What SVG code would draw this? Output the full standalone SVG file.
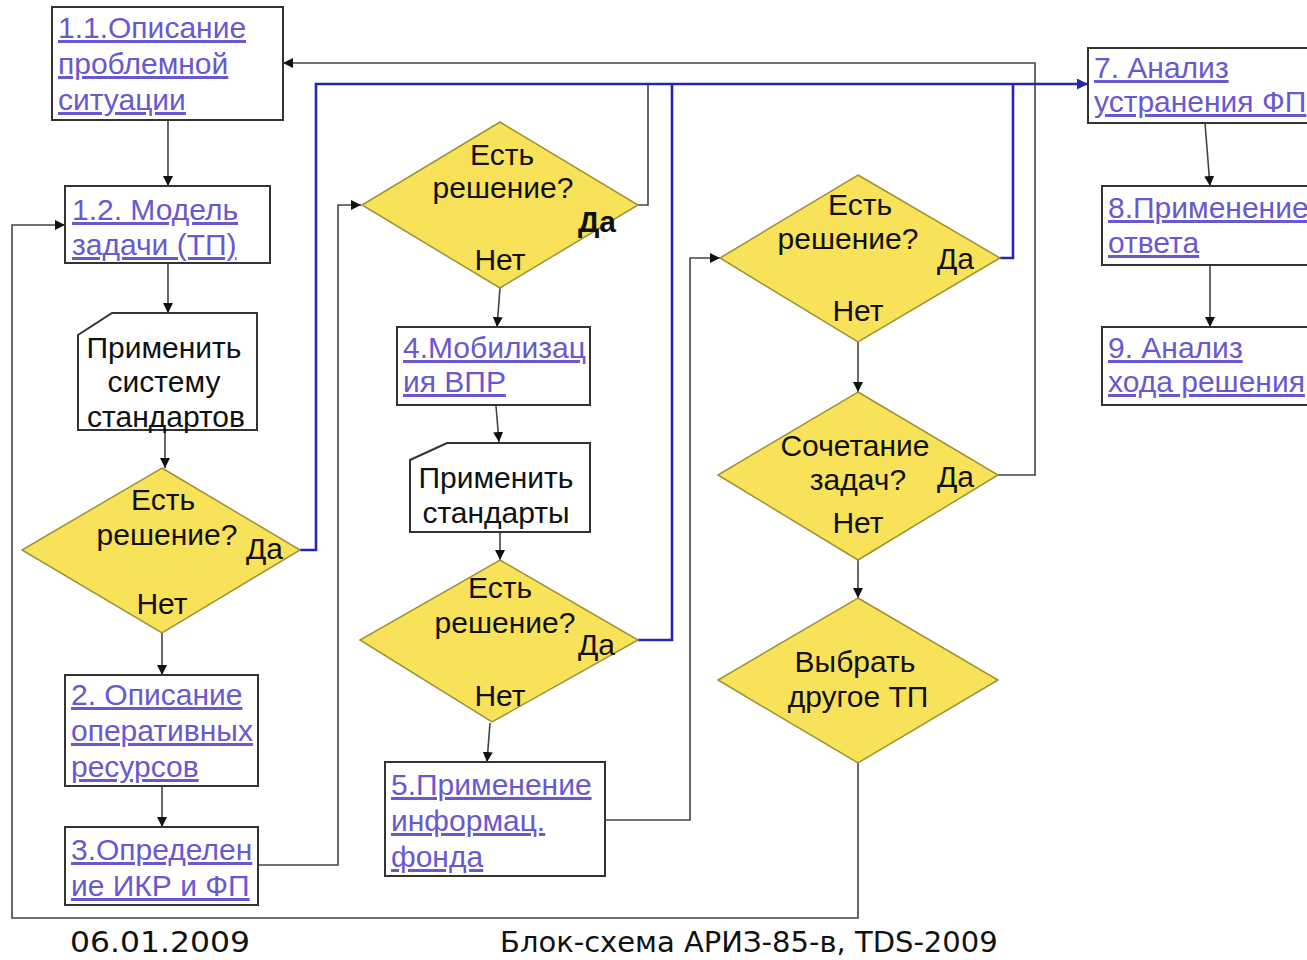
<svg xmlns="http://www.w3.org/2000/svg" width="1307" height="960" viewBox="0 0 1307 960">
<style>
.box{fill:#fff;stroke:#333;stroke-width:2}
.dia{fill:#f8e25a;stroke:#9c9335;stroke-width:1.5}
.lnk{font-family:"Liberation Sans",Arial,sans-serif;font-size:30px;fill:#6a58d0;text-decoration:underline}
.t{font-family:"Liberation Sans",Arial,sans-serif;font-size:30px;fill:#111}
.c{text-anchor:middle}
.g{fill:none;stroke:#444;stroke-width:1.6}
.b{fill:none;stroke:#2626b0;stroke-width:2.6}
.foot{font-family:"DejaVu Sans",sans-serif;font-size:29px;fill:#111}
</style>
<defs>
<marker id="ah" viewBox="0 0 10 10" refX="10" refY="5" markerWidth="10" markerHeight="10" markerUnits="userSpaceOnUse" orient="auto"><path d="M0,0L10,5L0,10z" fill="#111"/></marker>
<marker id="ahb" viewBox="0 0 10 10" refX="10" refY="5" markerWidth="11" markerHeight="11" markerUnits="userSpaceOnUse" orient="auto"><path d="M0,0L10,5L0,10z" fill="#2626b0"/></marker>
</defs>
<g id="connectors">
<path class="g" d="M168,120V186" marker-end="url(#ah)"/>
<path class="g" d="M168,263V313" marker-end="url(#ah)"/>
<path class="g" d="M165,430V468" marker-end="url(#ah)"/>
<path class="g" d="M162,633V675" marker-end="url(#ah)"/>
<path class="g" d="M162,786V827" marker-end="url(#ah)"/>
<path class="g" d="M258,865H338V205H361" marker-end="url(#ah)"/>
<path class="g" d="M500,288L497,327" marker-end="url(#ah)"/>
<path class="g" d="M496,406L499,442" marker-end="url(#ah)"/>
<path class="g" d="M500,532V560" marker-end="url(#ah)"/>
<path class="g" d="M490,723L487,762" marker-end="url(#ah)"/>
<path class="g" d="M605,820H690V258H720" marker-end="url(#ah)"/>
<path class="g" d="M858,342V392" marker-end="url(#ah)"/>
<path class="g" d="M858,560V598" marker-end="url(#ah)"/>
<path class="g" d="M858,763V918H12V225H65" marker-end="url(#ah)"/>
<path class="g" d="M998,475H1035V63H283" marker-end="url(#ah)"/>
<path class="g" d="M638,205H648V84"/>
<path class="g" d="M1205,123L1210,186" marker-end="url(#ah)"/>
<path class="g" d="M1210,265V327" marker-end="url(#ah)"/>
<path class="b" d="M300,550H316V84H1088" marker-end="url(#ahb)"/>
<path class="b" d="M638,640H672V84"/>
<path class="b" d="M1000,258H1013V84"/>
</g>
<g id="n11"><rect class="box" x="52" y="7" width="231" height="113"/>
<text class="lnk" x="58" y="38">1.1.Описание</text><text class="lnk" x="58" y="74">проблемной</text><text class="lnk" x="58" y="110">ситуации</text></g>
<g id="n12"><rect class="box" x="65" y="186" width="205" height="77"/>
<text class="lnk" x="72" y="220">1.2. Модель</text><text class="lnk" x="72" y="255">задачи (ТП)</text></g>
<g id="card1"><path class="box" d="M112,313H257V430H78V335Z"/>
<text class="t c" x="164" y="358">Применить</text><text class="t c" x="164" y="392">систему</text><text class="t c" x="166" y="427">стандартов</text></g>
<g id="d1"><path class="dia" d="M162,468L300,550L162,633L22,550Z"/>
<text class="t c" x="163" y="510">Есть</text><text class="t c" x="167" y="545">решение?</text><text class="t" x="246" y="559">Да</text><text class="t c" x="162" y="614">Нет</text></g>
<g id="n2"><rect class="box" x="65" y="675" width="193" height="111"/>
<text class="lnk" x="71" y="705">2. Описание</text><text class="lnk" x="71" y="741">оперативных</text><text class="lnk" x="71" y="777">ресурсов</text></g>
<g id="n3"><rect class="box" x="65" y="827" width="193" height="78"/>
<text class="lnk" x="71" y="860">3.Определен</text><text class="lnk" x="71" y="896">ие ИКР и ФП</text></g>
<g id="d2"><path class="dia" d="M500,122L638,205L500,288L362,205Z"/>
<text class="t c" x="502" y="165">Есть</text><text class="t c" x="503" y="198">решение?</text><text class="t" x="578" y="232" font-weight="bold">Да</text><text class="t c" x="500" y="270">Нет</text></g>
<g id="n4"><rect class="box" x="397" y="327" width="193" height="78"/>
<text class="lnk" x="403" y="358">4.Мобилизац</text><text class="lnk" x="403" y="392">ия ВПР</text></g>
<g id="card2"><path class="box" d="M447,443H590V532H410V460Z"/>
<text class="t c" x="496" y="488">Применить</text><text class="t c" x="496" y="523">стандарты</text></g>
<g id="d3"><path class="dia" d="M500,560L638,640L492,722L360,640Z"/>
<text class="t c" x="500" y="598">Есть</text><text class="t c" x="505" y="633">решение?</text><text class="t" x="578" y="655">Да</text><text class="t c" x="500" y="706">Нет</text></g>
<g id="n5"><rect class="box" x="385" y="762" width="220" height="114"/>
<text class="lnk" x="391" y="795">5.Применение</text><text class="lnk" x="391" y="831">информац.</text><text class="lnk" x="391" y="867">фонда</text></g>
<g id="d4"><path class="dia" d="M858,175L1000,258L858,342L720,258Z"/>
<text class="t c" x="860" y="215">Есть</text><text class="t c" x="848" y="249">решение?</text><text class="t" x="937" y="269">Да</text><text class="t c" x="858" y="321">Нет</text></g>
<g id="d5"><path class="dia" d="M858,392L998,475L858,560L718,475Z"/>
<text class="t c" x="855" y="456">Сочетание</text><text class="t c" x="858" y="490">задач?</text><text class="t" x="937" y="487">Да</text><text class="t c" x="858" y="533">Нет</text></g>
<g id="d6"><path class="dia" d="M858,598L998,680L858,763L718,680Z"/>
<text class="t c" x="855" y="672">Выбрать</text><text class="t c" x="858" y="707">другое ТП</text></g>
<g id="n7"><rect class="box" x="1088" y="48" width="225" height="75"/>
<text class="lnk" x="1094" y="78">7. Анализ</text><text class="lnk" x="1094" y="112">устранения ФП</text></g>
<g id="n8"><rect class="box" x="1102" y="186" width="211" height="79"/>
<text class="lnk" x="1108" y="218">8.Применение</text><text class="lnk" x="1108" y="253">ответа</text></g>
<g id="n9"><rect class="box" x="1102" y="327" width="211" height="78"/>
<text class="lnk" x="1108" y="358">9. Анализ</text><text class="lnk" x="1108" y="392">хода решения</text></g>
<g id="footer">
<text class="foot" x="70" y="952" textLength="180" lengthAdjust="spacingAndGlyphs">06.01.2009</text>
<text class="foot" x="500" y="952">Блок-схема АРИЗ-85-в, TDS-2009</text>
</g>
</svg>
